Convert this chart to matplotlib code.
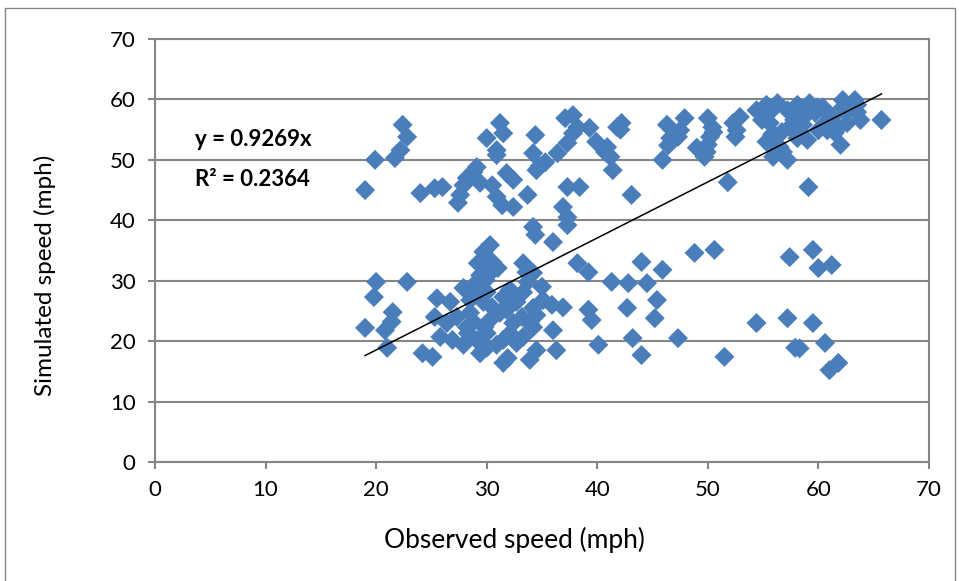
import numpy as np
import matplotlib.pyplot as plt
from matplotlib.patches import Rectangle

# observed vs simulated speeds (mph)
observed = [
    19.0, 19.9, 21.7, 22.2, 22.4, 22.8, 24.0, 25.3, 26.0, 27.4, 27.6, 27.9,
    28.2, 28.8, 29.1, 29.4, 30.0, 30.9, 30.9, 30.5, 30.9, 31.2, 31.5, 31.4,
    31.8, 32.4, 32.4, 33.7, 34.4, 34.2, 34.5, 35.3, 34.8, 36.4, 37.1, 37.8,
    37.3, 37.8, 38.2, 39.3, 39.9, 40.7, 41.2, 41.4, 41.8, 42.2, 42.1, 43.1,
    40.9, 37.3, 38.4, 36.9, 37.3, 37.3, 34.2, 34.4, 36.0,
    46.3, 46.6, 46.4, 45.9, 47.9, 47.5, 50.0, 50.5, 49.0, 49.7, 50.0, 52.9,
    52.3, 52.6, 51.8, 55.3, 56.3, 55.0, 55.9, 55.6, 55.9, 57.2, 56.5, 59.1,
    59.9, 62.0, 65.7, 63.5, 62.2, 63.8, 61.3, 60.8, 52.5, 55.6, 57.2, 58.1,
    58.3, 59.2, 59.7, 60.4, 61.3, 62.2, 63.3, 62.6, 57.4, 56.7, 55.8, 55.3,
    56.2, 56.8, 59.0, 58.1, 60.0, 60.8, 54.9, 54.4, 62.6, 63.5, 60.6, 50.2,
    50.4, 49.9, 47.3, 61.5, 58.6, 57.8, 56.0, 58.8, 61.8,
    19.0, 20.0, 19.8, 21.5, 20.8, 21.4, 21.0, 22.8, 24.2, 25.1,
    30.3, 29.7, 29.2, 30.5, 30.6, 30.1, 33.3, 33.6, 38.2, 27.9, 25.5, 26.7,
    28.5, 29.2, 29.7, 30.5, 30.0, 31.5, 32.1, 32.7, 33.3, 33.7, 35.0, 35.1,
    35.9, 34.2, 36.9, 25.3, 26.4, 27.3, 28.5, 28.2, 28.8, 29.8, 30.3, 31.2,
    31.8, 32.4, 33.2, 33.9, 34.5, 34.2, 36.0, 25.8, 26.9, 27.9, 28.3, 29.1,
    30.0, 30.0, 30.9, 31.5, 32.1, 32.7, 33.3, 34.5, 33.9, 31.5, 31.9, 29.4,
    39.2, 39.5, 40.1, 36.3, 39.2, 41.3, 42.8, 44.5, 44.0, 42.7, 43.2, 44.0,
    45.2, 45.4, 29.7, 34.2, 48.8, 50.6, 45.9, 47.3, 51.5, 54.4, 57.2, 59.5,
    57.9, 58.3, 60.6, 61.0, 61.8, 57.4, 59.5, 60.0, 61.2, 29.4, 29.9, 29.0,
    31.0, 28.5,
]
simulated = [
    45.0, 50.0, 50.3, 51.6, 55.8, 53.8, 44.5, 45.3, 45.5, 42.9, 44.2, 45.8,
    47.0, 48.0, 48.8, 46.2, 53.6, 51.6, 50.8, 45.8, 43.9, 56.1, 54.4, 42.5,
    47.8, 46.7, 42.2, 44.2, 54.1, 51.1, 48.3, 49.6, 49.0, 51.1, 56.9, 57.4,
    52.8, 54.4, 55.4, 55.3, 53.0, 51.3, 50.5, 48.3, 55.4, 56.1, 55.0, 44.2,
    52.1, 45.5, 45.5, 42.2, 40.5, 39.2, 38.9, 37.6, 36.4,
    55.8, 53.6, 52.4, 50.0, 56.9, 54.9, 56.9, 54.6, 52.0, 50.5, 52.5, 57.1,
    56.1, 54.9, 46.3, 59.1, 59.4, 57.8, 54.4, 53.3, 50.5, 50.0, 52.1, 45.5,
    58.7, 52.5, 56.6, 59.1, 58.7, 56.6, 56.1, 57.8, 53.8, 56.1, 58.2, 59.1,
    57.1, 59.4, 57.8, 58.7, 57.1, 59.9, 59.9, 56.1, 55.4, 54.6, 54.1, 53.0,
    51.3, 51.3, 53.3, 53.6, 54.9, 54.9, 56.6, 58.2, 57.9, 57.9, 56.1, 53.8,
    55.4, 51.3, 53.8, 54.5, 55.8, 56.6, 58.6, 57.3, 55.3,
    22.2, 29.8, 27.3, 24.8, 21.8, 23.2, 18.9, 29.8, 18.0, 17.4,
    35.9, 34.8, 32.9, 33.1, 31.8, 31.3, 32.9, 31.4, 32.9, 28.8, 27.1, 26.5,
    26.8, 28.0, 26.5, 25.6, 28.1, 27.3, 28.5, 26.5, 28.1, 29.8, 29.0, 26.8,
    26.0, 25.5, 25.6, 24.0, 23.0, 24.0, 24.7, 22.3, 23.2, 22.3, 23.5, 24.7,
    25.2, 23.0, 24.0, 23.0, 24.3, 22.3, 21.8, 20.7, 20.2, 19.4, 21.3, 20.2,
    21.3, 18.9, 19.4, 20.2, 21.3, 19.7, 20.7, 18.5, 16.9, 16.4, 17.2, 18.0,
    25.2, 23.5, 19.4, 18.5, 31.4, 29.8, 29.6, 29.6, 33.1, 25.5, 20.5, 17.7,
    23.8, 26.8, 33.4, 31.3, 34.6, 35.1, 31.8, 20.5, 17.4, 23.0, 23.8, 23.0,
    18.9, 18.8, 19.7, 15.2, 16.4, 33.9, 35.1, 32.1, 32.6, 30.9, 30.1, 29.6,
    32.1, 28.3,
]
slope = 0.9269
r_squared = 0.2364
x_ticks = [0, 10, 20, 30, 40, 50, 60, 70]
y_ticks = [0, 10, 20, 30, 40, 50, 60, 70]

marker_color = "#4A7EBB"
grid_color = "#868686"
font = ["Lato", "DejaVu Sans"]

plt.rcParams["font.family"] = font

fig = plt.figure(figsize=(9.59, 5.81), dpi=100)
ax = fig.add_axes((0.1616, 0.2048, 0.8071, 0.7281))

# outer chart border
fig.patches.append(Rectangle(
    (5 / 959, -0.01), 950 / 959, 1.01 - 8 / 581,
    transform=fig.transFigure, fill=False, edgecolor=grid_color,
    linewidth=1.0))

ax.scatter(observed, simulated, marker="D", s=104, color=marker_color,
           edgecolors="none", zorder=3)

# linear trendline through the origin over the data range
x_fit = np.array([min(observed), max(observed)])
ax.plot(x_fit, slope * x_fit, color="black", linewidth=1.1, zorder=4)

ax.text(3.6, 53.3, f"y = {slope}x", fontsize=16, fontweight="bold",
        va="center", ha="left", zorder=5)
ax.text(3.6, 46.7, f"R² = {r_squared}", fontsize=16, fontweight="bold",
        va="center", ha="left", zorder=5)

ax.set_xlim(0, 70)
ax.set_ylim(0, 70)
ax.set_xticks(x_ticks)
ax.set_yticks(y_ticks)
ax.yaxis.grid(True, color=grid_color, linewidth=1.5)
ax.set_axisbelow(True)
for spine in ax.spines.values():
    spine.set_color(grid_color)
    spine.set_linewidth(1.5)
ax.tick_params(axis="both", direction="out", length=5, width=1.5,
               color=grid_color, labelsize=16)
ax.tick_params(axis="x", pad=8)
ax.tick_params(axis="y", pad=9)

ax.set_xlabel("Observed speed (mph)", fontsize=19, va="center")
ax.set_ylabel("Simulated speed (mph)", fontsize=17.5, va="center")
ax.xaxis.set_label_coords(0.465, -0.184)
ax.yaxis.set_label_coords(-0.142, 0.442)

fig.savefig("out.png", dpi=100)
